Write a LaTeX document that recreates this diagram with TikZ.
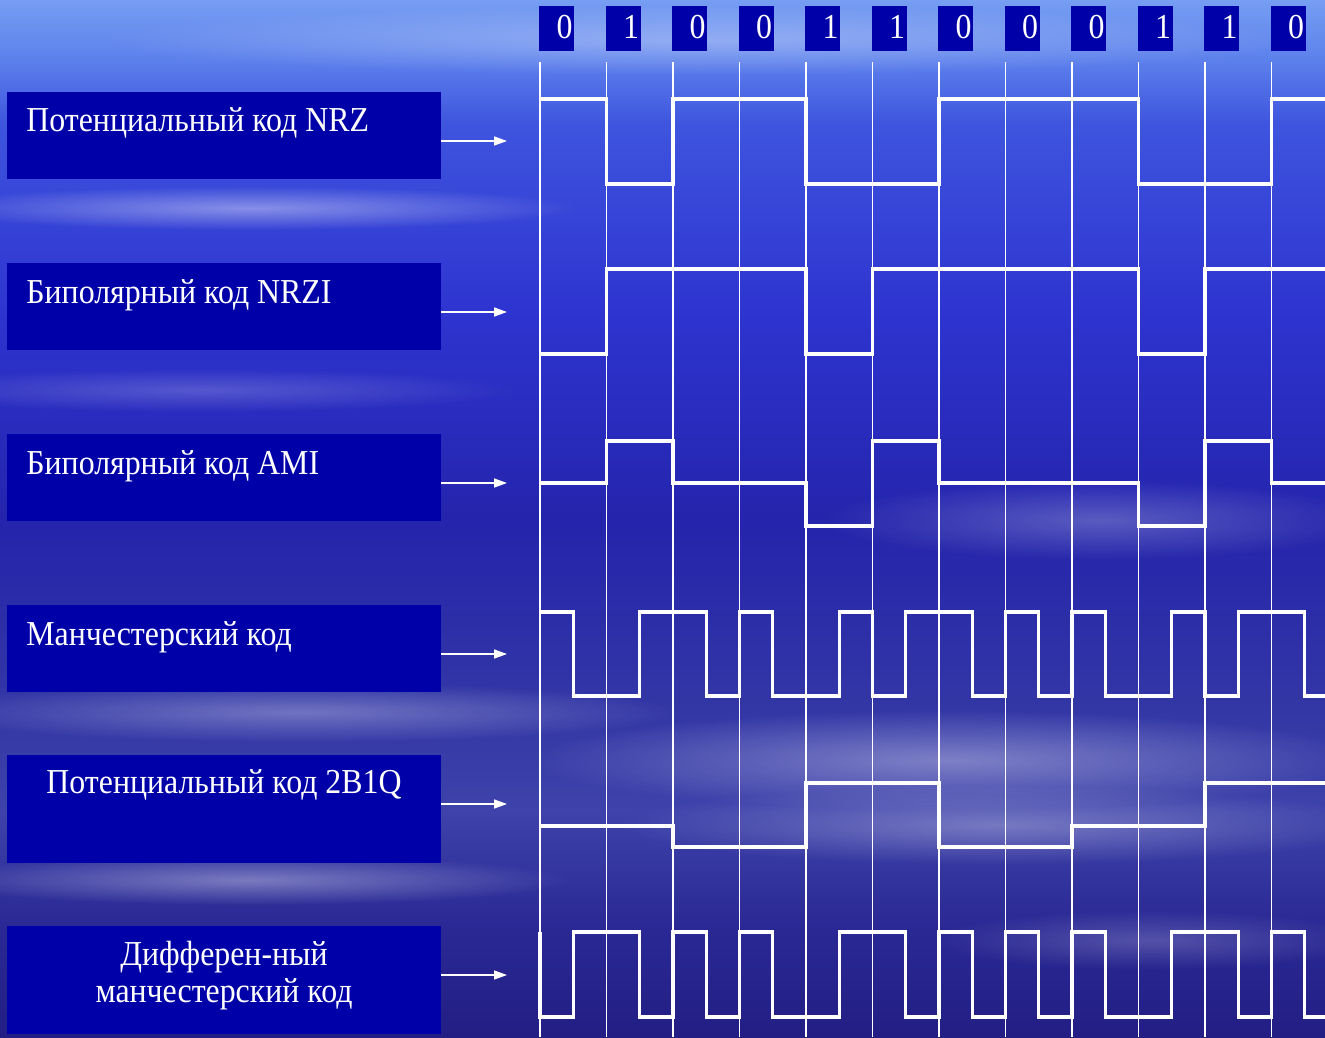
\documentclass[tikz,border=0pt]{standalone}
\usepackage{fontspec}
\setmainfont{Liberation Serif}[FakeStretch=0.91]
\usetikzlibrary{
  arrows.meta,
  positioning,
  calc,
  fadings
}
\definecolor{boxblue}{RGB}{0,0,168}
\definecolor{sky0}{RGB}{118,158,242}
\definecolor{sky1}{RGB}{92,128,236}
\definecolor{sky2}{RGB}{62,84,222}
\definecolor{sky3}{RGB}{46,52,208}
\definecolor{sky4}{RGB}{36,36,172}
\definecolor{sky5}{RGB}{50,54,165}
\definecolor{sky6}{RGB}{62,66,170}
\definecolor{sky7}{RGB}{42,40,148}
\definecolor{sky8}{RGB}{34,30,132}
\pgfdeclareverticalshading{seasky}{100bp}{
  color(0bp)=(sky8); color(25bp)=(sky8); color(30.15bp)=(sky7);
  color(35.9bp)=(sky6); color(41.25bp)=(sky5); color(49.9bp)=(sky4);
  color(60.05bp)=(sky3); color(69bp)=(sky2); color(72.1bp)=(sky1);
  color(75bp)=(sky0); color(100bp)=(sky0)}
\tikzfading[name=softspot, inner color=transparent!0, outer color=transparent!100]
\tikzset{
  codebox/.style={
    rectangle, fill=boxblue, inner sep=0pt, outer sep=0pt,
    minimum width=217pt, minimum height=43.5pt, anchor=north west
  },
  tallcodebox/.style={codebox, minimum height=54pt},
  codetext/.style={
    text=white, inner sep=0pt,
    font=\fontsize{17.5}{18.5}\selectfont
  },
  bitbox/.style={
    rectangle, fill=boxblue, inner sep=0pt, outer sep=0pt,
    minimum width=17.5pt, minimum height=22.5pt, anchor=north west
  },
  bitdigit/.style={codetext, anchor=base east},
  gridline/.style={white, line width=0.7pt},
  signal/.style={white, line width=1.6pt, line join=miter},
  sigarrow/.style={white, line width=0.75pt, -{Triangle[length=6.5pt,width=4.5pt]}},
  streak/.style={white, path fading=softspot}
}

\begin{document}
\begin{tikzpicture}[x=0.5pt, y=-0.5pt]

\useasboundingbox (0,0) rectangle (1325,1037);
\clip (0,0) rectangle (1325,1037);

% ── Background ──────────────────────────────────────────────────────────────
\fill[shading=seasky] (0,0) rectangle (1325,1037);
\fill[streak, opacity=0.3] (700,40) ellipse (600 and 35);
\fill[streak, opacity=0.4] (250,208) ellipse (330 and 22);
\fill[streak, opacity=0.2] (200,390) ellipse (320 and 22);
\fill[streak, opacity=0.25] (1100,520) ellipse (280 and 40);
\fill[streak, opacity=0.3] (300,712) ellipse (380 and 30);
\fill[streak, opacity=0.35] (950,760) ellipse (420 and 50);
\fill[streak, opacity=0.3] (1000,825) ellipse (380 and 40);
\fill[streak, opacity=0.35] (250,880) ellipse (320 and 25);
\fill[streak, opacity=0.2] (1150,940) ellipse (220 and 30);

% ── Bit clock grid and bit values ───────────────────────────────────────────
\foreach \i in {0,...,11}
  \draw[gridline] ({540+66.5*\i},62) -- ({540+66.5*\i},1037);

\foreach \b [count=\i from 0] in {0,1,0,0,1,1,0,0,0,1,1,0} {
  \node[bitbox] (bit\i) at ({539+66.5*\i},6) {};
  \node[bitdigit] at ($(bit\i.north east)+(-1,33)$) {\b};
}

% ── Code name boxes ─────────────────────────────────────────────────────────
\node[codebox] (lblnrz) at (7,92) {};
\node[codebox, below=42pt of lblnrz] (lblnrzi) {};
\node[codebox, below=42pt of lblnrzi] (lblami) {};
\node[codebox, below=42pt of lblami] (lblman) {};
\node[tallcodebox, below=31.5pt of lblman] (lbltwob) {};
\node[tallcodebox, below=31.5pt of lbltwob] (lbldiff) {};

\node[codetext, anchor=base west] (txtnrz) at ($(lblnrz.north west)+(19,40)$)
  {Потенциальный код NRZ};
\node[codetext, anchor=base west] (txtnrzi) at ($(lblnrzi.north west)+(19,40)$)
  {Биполярный код NRZI};
\node[codetext, anchor=base west] (txtami) at ($(lblami.north west)+(19,40)$)
  {Биполярный код AMI};
\node[codetext, anchor=base west] (txtman) at ($(lblman.north west)+(19,40)$)
  {Манчестерский код};
\node[codetext, anchor=base] (txttwob) at ($(lbltwob.north)+(0,38)$)
  {Потенциальный код 2B1Q};
\node[codetext, align=center, anchor=base] (txtdiff) at ($(lbldiff.north)+(0,76)$)
  {Дифферен-ный\\манчестерский код};

% ── Arrows to the signals ───────────────────────────────────────────────────
\foreach \n in {lblnrz, lblnrzi, lblami, lblman, lbltwob, lbldiff} {
  \coordinate (tip\n) at ($(\n.north east)+(66,49)$);
  \draw[sigarrow] (\n.north east |- tip\n) -- (tip\n);
}

% ── Signals ─────────────────────────────────────────────────────────────────
% NRZ
\draw[signal] (540,99) -| (606.5,184) -| (673,99) -| (806,184) -| (939,99)
  -| (1138.5,184) -| (1271.5,99) -- (1325,99);
% NRZI
\draw[signal] (540,354) -| (606.5,269) -| (806,354) -| (872.5,269)
  -| (1138.5,354) -| (1205,269) -- (1325,269);
% AMI
\draw[signal] (540,483) -| (606.5,441) -| (673,483) -| (806,526) -| (872.5,441)
  -| (939,483) -| (1138.5,526) -| (1205,441) -| (1271.5,483) -- (1325,483);
% Manchester
\draw[signal] (540,612) -| (573.25,696) -| (639.75,612) -| (706.25,696)
  -| (739.5,612) -| (772.75,696) -| (839.25,612) -| (872.5,696)
  -| (905.75,612) -| (972.25,696) -| (1005.5,612) -| (1038.75,696)
  -| (1072,612) -| (1105.25,696) -| (1171.75,612) -| (1205,696)
  -| (1238.25,612) -| (1304.75,696) -- (1325,696);
% 2B1Q
\draw[signal] (540,826) -| (673,847) -| (806,783) -| (939,847)
  -| (1072,826) -| (1205,783) -- (1325,783);
% Differential Manchester
\draw[signal] (540,932) -- (540,1017) -| (573.25,932) -| (639.75,1017)
  -| (673,932) -| (706.25,1017) -| (739.5,932) -| (772.75,1017)
  -| (839.25,932) -| (905.75,1017) -| (939,932) -| (972.25,1017)
  -| (1005.5,932) -| (1038.75,1017) -| (1072,932) -| (1105.25,1017)
  -| (1171.75,932) -| (1238.25,1017) -| (1271.5,932) -| (1304.75,1017)
  -- (1325,1017);

\end{tikzpicture}
\end{document}
